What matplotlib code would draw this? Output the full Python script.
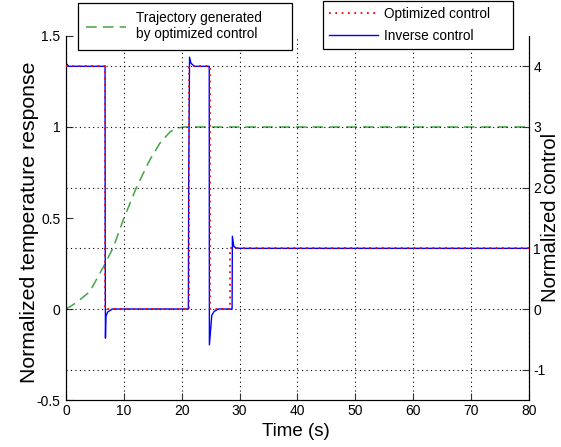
import numpy as np
import matplotlib
matplotlib.use("Agg")
import matplotlib.pyplot as plt

plt.rcParams['font.family'] = ['Liberation Sans', 'DejaVu Sans']
plt.rcParams['axes.unicode_minus'] = False

# trajectory generated by optimized control (left axis)
t_traj = [0, 0.7, 2.0, 4.1, 6.45, 8.2, 9.9, 12.2, 14.5, 16.2, 18.0, 19.3, 20.5, 80]
y_traj = [0, 0.013, 0.04, 0.095, 0.23, 0.34, 0.49, 0.67, 0.82, 0.91, 0.974, 0.995, 1.0, 1.0]

# optimized control (right axis)
t_opt = [0, 6.74, 6.74, 21.3, 21.3, 24.8, 24.8, 28.35, 28.35, 80]
u_opt = [4, 4, 0, 0, 4, 4, 0, 0, 1, 1]

# inverse control (right axis)
t_inv = [0, 0.02, 0.1, 0.5, 6.75, 6.78, 6.82, 6.9, 7.2, 8.0, 21.15, 21.2, 21.35,
         21.6, 22.2, 24.75, 24.78, 25.2, 25.6, 26.3, 28.7, 28.75, 29.0, 29.5, 80]
u_inv = [2.5, 4.06, 4.04, 4.0, 4.0, 1.0, -0.48, -0.12, -0.05, 0.0, 0.0, 2.1, 4.15,
         4.05, 4.0, 4.0, -0.59, -0.1, -0.04, 0.0, 0.0, 1.2, 1.03, 1.0, 1.0]

fig = plt.figure(figsize=(5.61, 4.47), dpi=100)
ax = fig.add_axes([0.1176, 0.1051, 0.8254, 0.8144])
ax2 = ax.twinx()

dot = (0, (1, 3))
ax.grid(axis='x', color='black', linestyle=dot, linewidth=0.8)
ax2.grid(axis='y', color='black', linestyle=dot, linewidth=0.8)

l_traj, = ax.plot(t_traj, y_traj, color='#44a544', linestyle=(0, (7, 4)), linewidth=1.1,
                  label='Trajectory generated\nby optimized control')
l_opt, = ax2.plot(t_opt, u_opt, color='red', linestyle=(0, (1, 2.5)), linewidth=1.3,
                  label='Optimized control', zorder=3)
l_inv, = ax2.plot(t_inv, u_inv, color='blue', linewidth=1.0,
                  label='Inverse control', zorder=2)

ax.set_xlim(0, 80)
ax.set_ylim(-0.5, 1.5)
ax2.set_ylim(-1.5, 4.5)
ax.set_xticks(range(0, 81, 10))
ax.set_yticks([-0.5, 0, 0.5, 1, 1.5])
ax.set_yticklabels(['-0.5', '0', '0.5', '1', '1.5'])
ax2.set_yticks([-1, 0, 1, 2, 3, 4])

for a in (ax, ax2):
    a.spines['top'].set_visible(False)
    a.tick_params(direction='in', length=5, width=0.8, labelsize=10, color='#333333')
ax.tick_params(axis='x', pad=3)
ax.tick_params(axis='y', pad=4)
ax2.tick_params(axis='y', pad=3)

fig.text(30 / 561, 1 - 222 / 447, 'Normalized temperature response', rotation=90,
         ha='center', va='center', fontsize=15.3)
fig.text(296 / 561, 1 - 432 / 447, 'Time (s)', ha='center', va='center', fontsize=13.5)
fig.text(551 / 561, 1 - 217 / 447, 'Normalized control', rotation=90,
         ha='center', va='center', fontsize=14.6)

leg1 = fig.legend(handles=[l_traj], loc='upper left',
                  bbox_to_anchor=(78 / 561, 1 - 7 / 447, 214 / 561, 0.01), mode='expand',
                  borderaxespad=0, fontsize=9.8, handlelength=2.9, handletextpad=0.75,
                  borderpad=0.6, fancybox=False, edgecolor='black', framealpha=1)
leg1.get_frame().set_linewidth(0.9)
for t in leg1.get_texts():
    t.set_linespacing(1.25)
leg2 = fig.legend(handles=[l_opt, l_inv], loc='upper left',
                  bbox_to_anchor=(323 / 561, 1 - 5 / 447, 190 / 561, 0.01), mode='expand',
                  borderaxespad=0, fontsize=9.8, handlelength=3.6, handletextpad=0.45,
                  borderpad=0.45, labelspacing=0.6, fancybox=False, edgecolor='black',
                  framealpha=1)
leg2.get_frame().set_linewidth(0.9)

fig.savefig('out.png', dpi=100)
